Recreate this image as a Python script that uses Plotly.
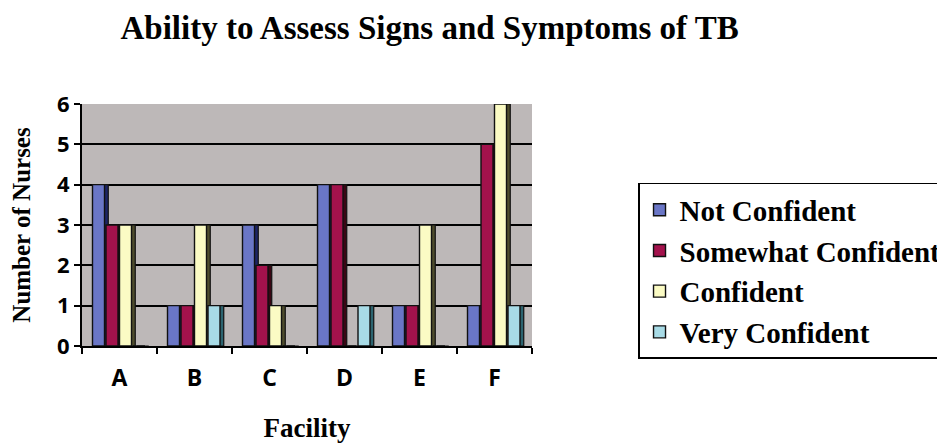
import plotly.graph_objects as go

facilities = ["A", "B", "C", "D", "E", "F"]
not_confident = [4, 1, 3, 4, 1, 1]
somewhat_confident = [3, 1, 2, 4, 1, 5]
confident = [3, 3, 1, 0, 3, 6]
very_confident = [0, 1, 0, 1, 0, 1]

# name, values, face colour, dark side colour (fake 3D depth)
series = [
    ("Not Confident", not_confident, "#6a76c6", "#1c2466"),
    ("Somewhat Confident", somewhat_confident, "#a3124c", "#3a0614"),
    ("Confident", confident, "#fbfbc4", "#4e4c2c"),
    ("Very Confident", very_confident, "#a8dbe6", "#2c6470"),
]

serif = "Liberation Serif, Times New Roman, serif"
sans = "Open Sans, Arial, sans-serif"

bar_w = 0.16     # face width, in category units
pitch = 0.18     # distance between neighbouring bars
depth = 0.05     # width of the dark side strip
start = -2 * pitch

fig = go.Figure()
for i, (name, vals, col, side) in enumerate(series):
    off = start + i * pitch
    fig.add_trace(go.Bar(
        x=facilities, y=vals, name=name + " side", showlegend=False, hoverinfo="skip",
        offset=off + depth, width=bar_w,
        marker=dict(color=side, line=dict(color="#111111", width=1.2)),
    ))
    fig.add_trace(go.Bar(
        x=facilities, y=vals, name=name,
        offset=off, width=bar_w,
        marker=dict(color=col, line=dict(color="#111111", width=1.4)),
    ))

# page body has an 8px margin, so the figure is sized to fit the window
fig.update_layout(
    width=937, height=435,
    margin=dict(l=74, r=413, t=96, b=97, autoexpand=False),
    paper_bgcolor="white",
    plot_bgcolor="#bdb8b8",
    barmode="group",
    title=dict(
        text="<b>Ability to Assess Signs and Symptoms of TB</b>",
        x=0.45, xanchor="center", y=0.956, yanchor="middle",
        font=dict(family=serif, size=33, color="black"),
    ),
    legend=dict(
        x=1.2356, xanchor="left", y=0.674, yanchor="top",
        bordercolor="black", borderwidth=1.5, bgcolor="white",
        font=dict(family=serif, size=29, color="black", weight="bold"),
    ),
    showlegend=True,
)

fig.update_xaxes(
    automargin=False,
    showline=True, linecolor="black", linewidth=2,
    ticks="outside", tickson="boundaries", ticklen=6, tickcolor="black", tickwidth=2,
    ticklabelstandoff=10,
    tickfont=dict(family=sans, size=23, color="black", weight="bold"),
    title=dict(text="<b>Facility</b>", font=dict(family=serif, size=27, color="black"), standoff=28),
    showgrid=False,
)
fig.update_yaxes(
    automargin=False,
    range=[0, 6], dtick=1,
    showline=True, linecolor="black", linewidth=2,
    ticks="outside", ticklen=6, tickcolor="black", tickwidth=2,
    tickfont=dict(family=sans, size=22, color="black", weight="bold"),
    title=dict(text="<b>Number of Nurses</b>", font=dict(family=serif, size=25, color="black"), standoff=20),
    showgrid=True, gridcolor="black", gridwidth=2,
    zeroline=False,
)

fig.write_html("out.html")
